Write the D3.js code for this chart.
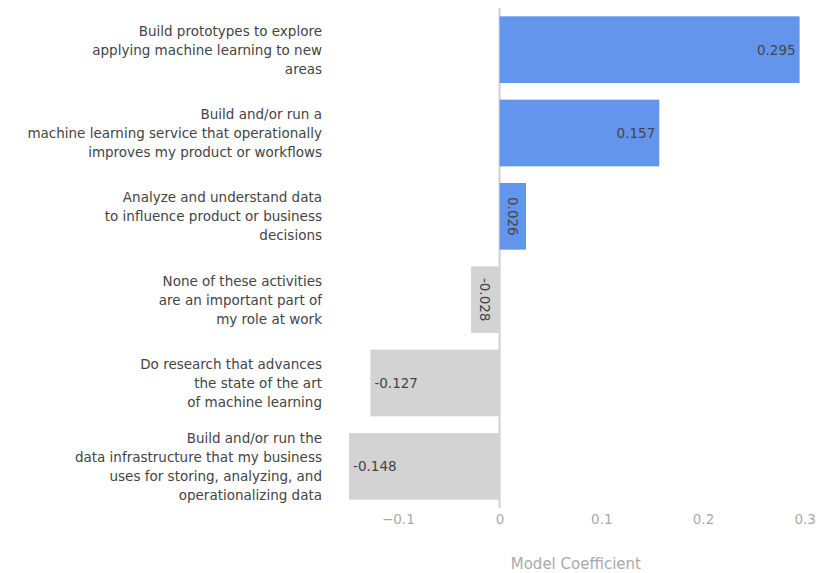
<!DOCTYPE html>
<html>
<head>
<meta charset="utf-8">
<script src="https://cdn.jsdelivr.net/npm/d3@7"></script>
<style>
  body { margin: 0; background: #fff; }
  svg text { font-family: Verdana, "DejaVu Sans", sans-serif; }
</style>
</head>
<body>
<script>
'use strict';

var categories = [
    ["Build prototypes to explore", "applying machine learning to new", "areas"],
    ["Build and/or run a", "machine learning service that operationally", "improves my product or workflows"],
    ["Analyze and understand data", "to influence product or business", "decisions"],
    ["None of these activities", "are an important part of", "my role at work"],
    ["Do research that advances", "the state of the art", "of machine learning"],
    ["Build and/or run the", "data infrastructure that my business", "uses for storing, analyzing, and", "operationalizing data"]
];
var coefficients = [0.295, 0.157, 0.026, -0.028, -0.127, -0.148];
var tickValues = [-0.1, 0, 0.1, 0.2, 0.3];
var axisTitle = "Model Coefficient";

var width = 817, height = 573;
var margin = {top: 8, right: 12, bottom: 65, left: 347};

var svg = d3.select("body").append("svg")
    .attr("width", width)
    .attr("height", height);

var x = d3.scaleLinear()
    .domain([-0.15, 0.3])
    .range([margin.left, 804.7]);

var y = d3.scaleBand()
    .domain(d3.range(categories.length))
    .range([margin.top, height - margin.bottom])
    .paddingInner(0.2)
    .paddingOuter(0.1);

// zero line
svg.append("line")
    .attr("x1", x(0)).attr("x2", x(0))
    .attr("y1", margin.top).attr("y2", height - margin.bottom)
    .attr("stroke", "#d0d0d0")
    .attr("stroke-width", 2);

// bars
svg.selectAll("rect.bar")
    .data(coefficients)
    .enter()
    .append("rect")
    .attr("class", "bar")
    .attr("x", function(d) { return x(Math.min(0, d)); })
    .attr("width", function(d) { return Math.abs(x(d) - x(0)); })
    .attr("y", function(d, i) { return y(i); })
    .attr("height", y.bandwidth())
    .attr("fill", function(d) { return d > 0 ? "#6495ed" : "#d3d3d3"; });

// value labels inside bars
svg.selectAll("text.value")
    .data(coefficients)
    .enter()
    .append("text")
    .attr("class", "value")
    .attr("fill", "#444")
    .style("font-size", "13.5px")
    .attr("dominant-baseline", "central")
    .attr("transform", function(d, i) {
        var cy = y(i) + y.bandwidth() / 2;
        if (Math.abs(d) < 0.05) {
            var cx = (x(d) + x(0)) / 2;
            return "translate(" + cx + "," + cy + ") rotate(90)";
        }
        return "translate(" + (d > 0 ? x(d) - 4 : x(d) + 4) + "," + cy + ")";
    })
    .attr("text-anchor", function(d) {
        if (Math.abs(d) < 0.05) return "middle";
        return d > 0 ? "end" : "start";
    })
    .text(function(d) { return d.toFixed(3); });

// category labels
var labels = svg.selectAll("text.cat")
    .data(categories)
    .enter()
    .append("text")
    .attr("class", "cat")
    .attr("fill", "#444")
    .attr("text-anchor", "end")
    .style("font-size", "13.5px");

labels.each(function(lines, i) {
    var cy = y(i) + y.bandwidth() / 2;
    var lh = 19;
    var start = cy - (lines.length - 1) * lh / 2;
    d3.select(this).selectAll("tspan")
        .data(lines)
        .enter()
        .append("tspan")
        .attr("x", 322)
        .attr("y", function(d, j) { return start + j * lh; })
        .attr("dominant-baseline", "central")
        .text(function(d) { return d; });
});

// x axis
var xAxis = d3.axisBottom(x)
    .tickValues(tickValues)
    .tickSize(0)
    .tickPadding(0)
    .tickFormat(function(d) { return d === 0 ? "0" : d3.format("")(d).replace("-", "\u2212"); });

var gx = svg.append("g")
    .attr("transform", "translate(0," + (height - margin.bottom + 6) + ")")
    .call(xAxis);

gx.select(".domain").remove();
gx.selectAll("text")
    .attr("fill", "#aaa")
    .attr("dy", "0.71em")
    .style("font-size", "13.5px")
    .style("font-family", "Verdana, 'DejaVu Sans', sans-serif");

svg.append("text")
    .attr("x", (x.range()[0] + x.range()[1]) / 2)
    .attr("y", 564)
    .attr("text-anchor", "middle")
    .attr("dominant-baseline", "central")
    .attr("fill", "#aaa")
    .style("font-size", "15px")
    .text(axisTitle);
</script>
</body>
</html>
